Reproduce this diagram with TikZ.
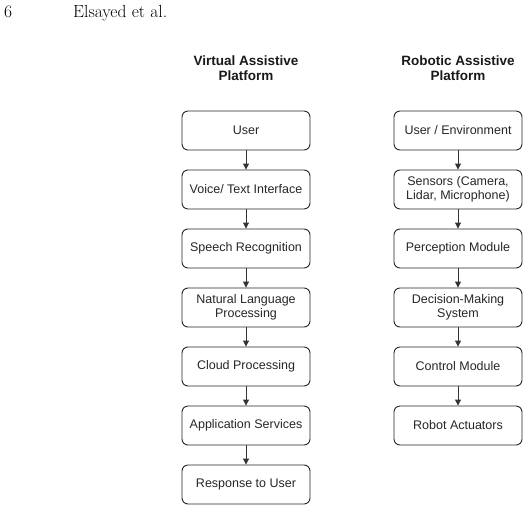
\documentclass[tikz,border=0pt]{standalone}
\usepackage{fontspec}
\setmainfont{Latin Modern Roman}
\newfontfamily\arialfont{Liberation Sans}
\usetikzlibrary{arrows.meta}
\begin{document}
\begin{tikzpicture}[x=1pt,y=-1pt,
  box/.style={draw=black!85, line width=0.9pt, rounded corners=6pt, minimum width=128pt, minimum height=39pt, align=center, inner sep=2pt, font=\arialfont\fontsize{12.5}{14.5}\selectfont, text=black!85},
  ttl/.style={align=center, font=\arialfont\bfseries\fontsize{13.5}{14.5}\selectfont, text=black!90},
  arr/.style={-{Triangle[length=6pt,width=6pt]}, line width=0.9pt, draw=black!80}]
\useasboundingbox (0,0) rectangle (529,511);
\node[anchor=base west, font=\fontsize{17.5}{20}\selectfont, inner sep=0] (pg) at (4,18) {6};
\node[anchor=base west, font=\fontsize{17.5}{20}\selectfont, inner sep=0] (au) at (73,18) {Elsayed et al.};
\node[ttl] (t1) at (246,68) {Virtual Assistive\\Platform};
\node[ttl] (t2) at (458,68) {Robotic Assistive\\Platform};
% left column
\node[box] (a1) at (246,130.5) {User};
\node[box] (a2) at (246,189.5) {Voice/ Text Interface};
\node[box] (a3) at (246,248.5) {Speech Recognition};
\node[box] (a4) at (246,307.5) {Natural Language\\Processing};
\node[box] (a5) at (246,366.5) {Cloud Processing};
\node[box] (a6) at (246,425.5) {Application Services};
\node[box] (a7) at (246,484.5) {Response to User};
% right column
\node[box] (b1) at (458,130.5) {User / Environment};
\node[box] (b2) at (458,189.5) {Sensors (Camera,\\Lidar, Microphone)};
\node[box] (b3) at (458,248.5) {Perception Module};
\node[box] (b4) at (458,307.5) {Decision-Making\\System};
\node[box] (b5) at (458,366.5) {Control Module};
\node[box] (b6) at (458,425.5) {Robot Actuators};
\foreach \i/\j in {1/2,2/3,3/4,4/5,5/6,6/7} \draw[arr] (a\i) -- (a\j);
\foreach \i/\j in {1/2,2/3,3/4,4/5,5/6} \draw[arr] (b\i) -- (b\j);
\end{tikzpicture}
\end{document}
